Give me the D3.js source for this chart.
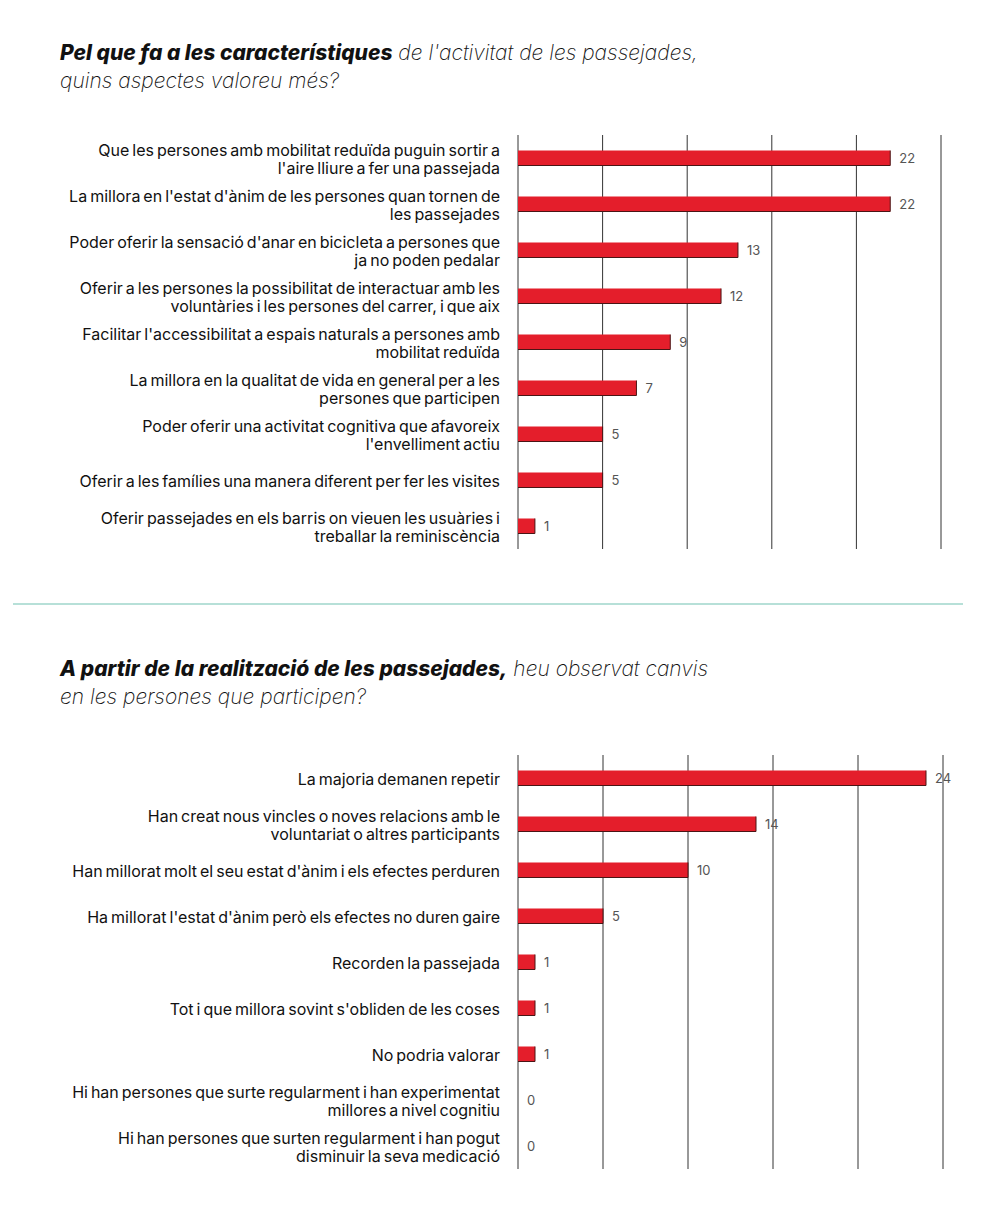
<!DOCTYPE html>
<html>
<head>
<meta charset="utf-8">
<script src="https://cdn.jsdelivr.net/npm/d3@7"></script>
<style>
body { margin: 0; background: #fff; }
svg { display: block; font-family: Inter, "Noto Sans", sans-serif; }
.lbl { font-size: 16px; fill: #111; word-spacing: -1.5px; }
.val { font-size: 13px; fill: #555; }
.t-bold { font-weight: 800; font-style: italic; }
.t-light { font-weight: 200; font-style: italic; }
</style>
</head>
<body>
<svg id="chart" width="983" height="1205"></svg>
<script>
// pregunta 1
var aspects = [
	"Que les persones amb mobilitat reduïda puguin sortir a\nl'aire lliure a fer una passejada",
	"La millora en l'estat d'ànim de les persones quan tornen de\nles passejades",
	"Poder oferir la sensació d'anar en bicicleta a persones que\nja no poden pedalar",
	"Oferir a les persones la possibilitat de interactuar amb les\nvoluntàries i les persones del carrer,  i que aix",
	"Facilitar l'accessibilitat a espais naturals a persones amb\nmobilitat reduïda",
	"La millora en la qualitat de vida en general per a les\npersones que participen",
	"Poder oferir una activitat cognitiva que afavoreix\nl'envelliment actiu",
	"Oferir a les famílies una manera diferent per fer les visites",
	"Oferir passejades en els barris on vieuen les usuàries i\ntreballar la reminiscència"
];
var aspectValues = [22, 22, 13, 12, 9, 7, 5, 5, 1];

// pregunta 2
var changes = [
	"La majoria demanen repetir",
	"Han creat nous vincles o noves relacions amb le\nvoluntariat o altres participants",
	"Han millorat molt el seu estat d'ànim i els efectes perduren",
	"Ha millorat l'estat d'ànim però els efectes no duren gaire",
	"Recorden la passejada",
	"Tot i que millora sovint s'obliden de les coses",
	"No podria valorar",
	"Hi han persones que surte regularment i han experimentat\nmillores a nivel cognitiu",
	"Hi han persones que surten regularment i han pogut\ndisminuir la seva medicació"
];
var changeValues = [24, 14, 10, 5, 1, 1, 1, 0, 0];

var ticks = [0, 5, 10, 15, 20, 25];

var svg = d3.select("#chart");

function draw_title(y, bold, light, second) {
	var t = svg.append("text").attr("x", 60).attr("y", y).style("font-size", "21px").attr("fill", "#111");
	t.append("tspan").attr("class", "t-bold").text(bold);
	t.append("tspan").attr("class", "t-light").text(light);
	svg.append("text").attr("x", 60).attr("y", y + 28).style("font-size", "21px")
		.attr("class", "t-light").attr("fill", "#111").text(second);
}

function draw_chart(cats, vals, top, bottom, right) {
	var x = d3.scaleLinear().domain([0, 25]).range([518, right]);
	var y = d3.scaleBand().domain(cats).range([top, bottom]);
	var g = svg.append("g");

	g.selectAll(".grid").data(ticks).enter().append("line")
		.attr("x1", d => x(d)).attr("x2", d => x(d))
		.attr("y1", top).attr("y2", bottom)
		.attr("stroke", "#333").attr("stroke-width", 1);

	var bh = 15;
	var rows = g.selectAll(".row").data(cats).enter().append("g")
		.attr("transform", d => "translate(0," + (y(d) + y.bandwidth() / 2) + ")");

	rows.append("rect")
		.attr("x", x(0)).attr("y", -bh / 2)
		.attr("width", (d, i) => x(vals[i]) - x(0)).attr("height", bh)
		.attr("fill", "#e41e2b");
	rows.filter((d, i) => vals[i] > 0).append("path")
		.attr("d", (d, i) => "M" + x(vals[i]) + "," + (-bh / 2) + "V" + (bh / 2) + "H" + x(0))
		.attr("fill", "none").attr("stroke", "#4a1515").attr("stroke-width", 1);

	rows.append("text").attr("class", "val")
		.attr("x", (d, i) => x(vals[i]) + 9).attr("dy", "0.35em")
		.text((d, i) => vals[i]);

	rows.each(function(d) {
		var lines = d.split("\n");
		var t = d3.select(this).append("text").attr("class", "lbl")
			.attr("text-anchor", "end").attr("x", 500);
		lines.forEach(function(l, k) {
			t.append("tspan").attr("x", 500)
				.attr("y", (k - (lines.length - 1) / 2) * 18 + 1)
				.attr("dy", "0.35em").text(l);
		});
	});
}

draw_title(60, "Pel que fa a les característiques", " de l'activitat de les passejades,", "quins aspectes valoreu més?");
draw_chart(aspects, aspectValues, 135, 549, 941);

svg.append("line").attr("x1", 13).attr("x2", 963).attr("y1", 604).attr("y2", 604)
	.attr("stroke", "#9fd6cb").attr("stroke-width", 1.5);

draw_title(676, "A partir de la realització de les passejades,", " heu observat canvis", "en les persones que participen?");
draw_chart(changes, changeValues, 755, 1169, 943);
</script>
</body>
</html>
